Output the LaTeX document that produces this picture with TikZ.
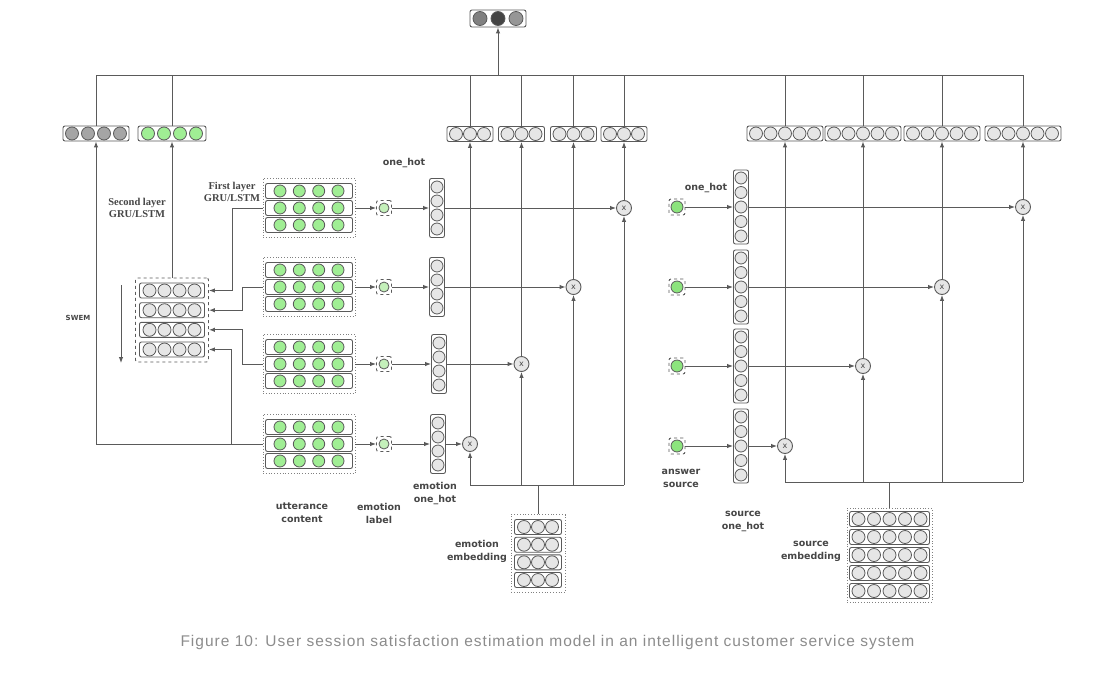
\documentclass[tikz,border=0pt]{standalone}
\usepackage{fontspec}
\setmainfont{Liberation Serif}
\newfontfamily\lblfont{DejaVu Sans}
\newfontfamily\capfont[LetterSpace=6.5]{Liberation Sans}
\usetikzlibrary{arrows.meta,calc,positioning}

\definecolor{lnc}{RGB}{90,90,90}
\definecolor{cgray}{RGB}{230,230,230}
\definecolor{cgreen}{RGB}{160,238,148}
\definecolor{cmid}{RGB}{165,165,165}
\definecolor{cpale}{RGB}{196,240,186}
\definecolor{cbright}{RGB}{140,228,125}
\definecolor{ctopa}{RGB}{128,128,128}
\definecolor{ctopb}{RGB}{68,68,68}
\definecolor{ctopc}{RGB}{150,150,150}
\definecolor{lbc}{RGB}{70,70,70}
\definecolor{capc}{RGB}{140,140,140}

\tikzset{
  vec/.style={draw=lnc, rounded corners=2pt, line width=0.9pt, fill=white, inner sep=0pt},
  cell/.style={circle, draw=lnc, line width=0.8pt, fill=cgray, minimum size=13pt, inner sep=0pt},
  gcell/.style={cell, fill=cgreen},
  dotbox/.style={draw=gray, dotted, line width=0.8pt, inner sep=0pt},
  dashbox/.style={draw=lnc, dashed, line width=0.9pt, rounded corners=2pt, inner sep=0pt},
  mul/.style={circle, draw=lnc, line width=0.9pt, fill=cgray, minimum size=15pt, inner sep=0pt,
    font=\lblfont\fontsize{8}{8}\selectfont, text=lbc},
  lbl/.style={font=\lblfont\bfseries\fontsize{9.5}{13}\selectfont, text=lbc, align=center},
  slbl/.style={font=\bfseries\fontsize{10.5}{12}\selectfont, text=lbc, align=center},
}

\begin{document}
\begin{tikzpicture}[x=1pt,y=-1pt,>={Latex[length=6pt,width=4.5pt]},line width=1pt,color=lnc]
  \useasboundingbox[fill=white] (0,0) rectangle (1101,678);

  % output vectors
  \node[vec, minimum width=56pt, minimum height=17pt] (top) at (498,18.5) {};
  \foreach \c/\f in {-18/ctopa,0/ctopb,18/ctopc} \node[cell, minimum size=14pt, fill=\f] at ($(top)+(\c,0)$) {};
  \node[vec, minimum width=66pt, minimum height=15pt] (g1) at (96,133.5) {};
  \foreach \c in {-24,-8,8,24} \node[cell, fill=cmid] at ($(g1)+(\c,0)$) {};
  \node[vec, minimum width=68pt, minimum height=15pt] (g2) at (172,133.5) {};
  \foreach \c in {-24,-8,8,24} \node[gcell] at ($(g2)+(\c,0)$) {};
  \foreach \n/\x in {e1/470,e2/521.5,e3/573.5,e4/624} {
    \node[vec, minimum width=46pt, minimum height=15pt] (\n) at (\x,134) {};
    \foreach \c in {-14,0,14} \node[cell] at ($(\n)+(\c,0)$) {};
  }
  \foreach \n/\x in {s1/785,s2/863,s3/942,s4/1023} {
    \node[vec, minimum width=76pt, minimum height=15pt] (\n) at (\x,133.5) {};
    \foreach \c in {-29,-14.5,0,14.5,29} \node[cell] at ($(\n)+(\c,0)$) {};
  }

  % SWEM block
  \node[dashbox, minimum width=73pt, minimum height=84pt] (sw) at (172,320) {};
  \foreach \i/\r in {1/-29.5,2/-9.8,3/9.8,4/29.5} {
    \node[vec, minimum width=65pt, minimum height=15pt] (sw\i) at ($(sw)+(0,\r)$) {};
    \foreach \c in {-22.5,-7.5,7.5,22.5} \node[cell] at ($(sw\i)+(\c,0)$) {};
  }

  % utterances, emotion labels, one_hot columns
  \foreach \n/\y in {u1/208,u2/287,u3/364,u4/444} {
    \node[dotbox, minimum width=92pt, minimum height=59pt] (\n) at (309,\y) {};
    \foreach \r in {-17,0,17} {
      \node[vec, minimum width=87pt, minimum height=15pt] at ($(\n)+(0,\r)$) {};
      \foreach \c in {-29,-9.7,9.7,29} \node[gcell, minimum size=12pt] at ($(\n)+(\c,\r)$) {};
    }
  }
  \foreach \n/\y in {l1/208,l2/287,l3/364,l4/444} {
    \node[dashbox, minimum size=15pt] (\n) at (384,\y) {};
    \node[cell, minimum size=10pt, fill=cpale] at (\n) {};
  }
  \foreach \n/\x/\y in {c1/437/208,c2/437/287,c3/439/364,c4/438/444} {
    \node[vec, minimum width=15pt, minimum height=59pt] (\n) at (\x,\y) {};
    \foreach \r in {-21,-7,7,21} \node[cell, minimum size=12pt] at ($(\n)+(0,\r)$) {};
  }
  \foreach \n/\x/\y in {m1/624/208,m2/573.5/287,m3/521.5/364,m4/470/444} \node[mul] (\n) at (\x,\y) {x};

  % answer source, source one_hot columns
  \foreach \n/\y in {a1/207,a2/287,a3/366,a4/446} {
    \node[dashbox, minimum size=16pt] (\n) at (677,\y) {};
    \node[cell, minimum size=12pt, fill=cbright] at (\n) {};
  }
  \foreach \n/\y in {k1/207,k2/287,k3/366,k4/446} {
    \node[vec, minimum width=15pt, minimum height=74pt] (\n) at (741,\y) {};
    \foreach \r in {-29,-14.5,0,14.5,29} \node[cell, minimum size=12pt] at ($(\n)+(0,\r)$) {};
  }
  \foreach \n/\x/\y in {n1/1023/207,n2/942/287,n3/863/366,n4/785/446} \node[mul] (\n) at (\x,\y) {x};

  % embeddings
  \node[dotbox, minimum width=54pt, minimum height=78pt] (ee) at (538,553.5) {};
  \foreach \r in {-26.5,-8.8,8.8,26.5} {
    \node[vec, minimum width=47pt, minimum height=15pt] at ($(ee)+(0,\r)$) {};
    \foreach \c in {-14,0,14} \node[cell] at ($(ee)+(\c,\r)$) {};
  }
  \node[dotbox, minimum width=85pt, minimum height=94pt] (se) at (889.5,555) {};
  \foreach \r in {-36,-18,0,18,36} {
    \node[vec, minimum width=80pt, minimum height=15pt] at ($(se)+(0,\r)$) {};
    \foreach \c in {-31,-15.5,0,15.5,31} \node[cell] at ($(se)+(\c,\r)$) {};
  }

  % top bus
  \coordinate (bt) at (498,75);
  \draw (g1 |- bt) -- (s4 |- bt);
  \foreach \n in {g1,g2,e1,e2,e3,e4,s1,s2,s3,s4} \draw (\n.north) -- (\n |- bt);
  \draw[->] (bt) -- (top);

  % left side
  \draw[->] (u4.west) -| (g1.south);
  \draw[->] (sw) -- (g2);
  \draw[->] (u1.west) -- ++(-30,0) |- (sw.east |- sw1);
  \draw[->] (u2.west) -- ++(-20,0) |- (sw.east |- sw2);
  \draw[->] (u3.west) -- ++(-20,0) |- (sw.east |- sw3);
  \draw[->] (u4.west) -- ++(-31,0) |- (sw.east |- sw4);
  \coordinate (swa) at (121,285);
  \coordinate (swb) at (121,363);
  \draw[->] (swa) -- (swb);

  % emotion branch
  \coordinate (eb) at (538,485);
  \draw (ee) -- (eb);
  \draw (m4 |- eb) -- (m1 |- eb);
  \foreach \i/\j in {1/4,2/3,3/2,4/1} {
    \draw[->] (u\i) -- (l\i);
    \draw[->] (l\i) -- (c\i);
    \draw[->] (c\i) -- (m\i);
    \draw[->] (m\i) -- (e\j);
    \draw[->] (m\i |- eb) -- (m\i);
  }

  % source branch
  \coordinate (sb) at (889.5,482);
  \draw (se) -- (sb);
  \draw (n4 |- sb) -- (n1 |- sb);
  \foreach \i/\j in {1/4,2/3,3/2,4/1} {
    \draw[->] (a\i) -- (k\i);
    \draw[->] (k\i) -- (n\i);
    \draw[->] (n\i) -- (s\j);
    \draw[->] (n\i |- sb) -- (n\i);
  }

  % labels
  \node[slbl] (l2nd) at (137,208) {Second layer\\GRU/LSTM};
  \node[slbl] (l1st) at (232,192) {First layer\\GRU/LSTM};
  \node[lbl, font=\lblfont\bfseries\fontsize{7}{8}\selectfont] (lswem) at (78,318) {SWEM};
  \node[lbl] (loh1) at (404,163) {one\_hot};
  \node[lbl] (lutt) at (302,513) {utterance\\content};
  \node[lbl] (lemo) at (379,513) {emotion\\label};
  \node[lbl] (leoh) at (435,494) {emotion\\one\_hot};
  \node[lbl] (leem) at (477,551) {emotion\\embedding};
  \node[lbl] (loh2) at (706,188) {one\_hot};
  \node[lbl] (lans) at (681,478) {answer\\source};
  \node[lbl] (lsoh) at (743,521) {source\\one\_hot};
  \node[lbl] (lsem) at (811,551) {source\\embedding};
  \node[font=\capfont\fontsize{15.5}{18}\selectfont, text=capc] (cap) at (547.5,642)
    {Figure 10: User session satisfaction estimation model in an intelligent customer service system};
\end{tikzpicture}
\end{document}
